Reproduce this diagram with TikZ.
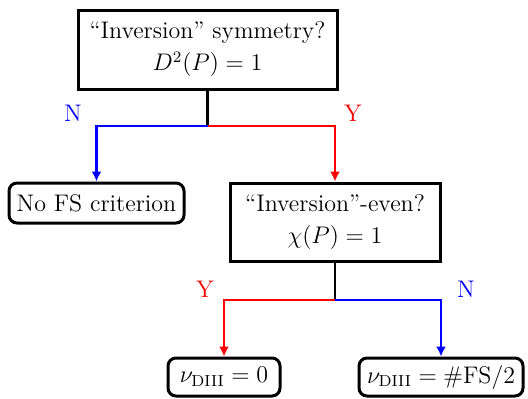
\documentclass[tikz,border=0pt]{standalone}
\usetikzlibrary{arrows.meta}
\tikzset{
  qbox/.style={draw, line width=1.5pt, align=center, inner sep=0pt},
  abox/.style={draw, line width=1.5pt, rounded corners=4pt, inner sep=0pt},
  link/.style={line width=1.4pt},
  arr/.style={line width=1.4pt, -{Latex[length=5pt,width=5pt]}},
}
\begin{document}
\begin{tikzpicture}[x=0.5pt,y=-0.5pt]
\fontsize{12pt}{16pt}\selectfont
\useasboundingbox (0,0) rectangle (528,398);
% questions
\node[qbox, minimum width=129.5pt, minimum height=39.5pt] (sym) at (207.5,49.5)
  {``Inversion'' symmetry?\\ $D^2(P)=1$};
\node[qbox, minimum width=105pt, minimum height=39pt] (even) at (335,222)
  {``Inversion''-even?\\ $\chi(P)=1$};
% answers
\node[abox, minimum width=87.5pt, minimum height=20pt] (nofs) at (96.5,203) {No FS criterion};
\node[abox, minimum width=56pt, minimum height=19pt] (zero) at (224,377) {$\nu_{\mathrm{DIII}}=0$};
\node[abox, minimum width=82pt, minimum height=19pt] (half) at (441,377) {$\nu_{\mathrm{DIII}}=\#\mathrm{FS}/2$};
% branch points
\coordinate (fork1) at (207.5,126);
\coordinate (fork2) at (335,300);
\draw[link] (sym.south) -- (fork1);
\draw[arr, blue] (fork1) -| (nofs.north);
\draw[arr, red] (fork1) -| (even.north);
\draw[link] (even.south) -- (fork2);
\draw[arr, red] (fork2) -| (zero.north);
\draw[arr, blue] (fork2) -| (half.north);
% labels
\node[blue] (n1) at (73,113) {N};
\node[red] (y1) at (353,113) {Y};
\node[red] (y2) at (205,289) {Y};
\node[blue] (n2) at (466,289) {N};
\end{tikzpicture}
\end{document}
